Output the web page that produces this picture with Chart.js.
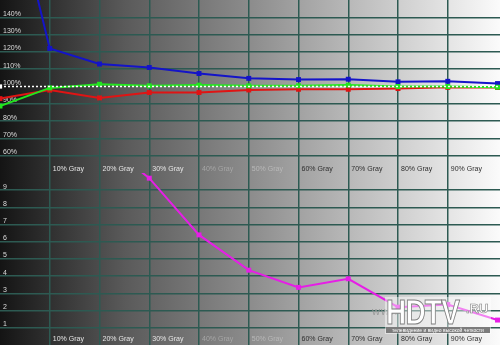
<!DOCTYPE html>
<html>
<head>
<meta charset="utf-8">
<script src="https://cdn.jsdelivr.net/npm/chart.js@4/dist/chart.umd.min.js"></script>
<style>
  html, body { margin: 0; padding: 0; }
  body { width: 500px; height: 345px; overflow: hidden; }
  .wrap { position: relative; width: 500px; height: 345px;
    background: linear-gradient(to right, #141414 0%, #5a5a5a 25%, #8c8c8c 50%, #c4c4c4 75%, #fbfbfb 100%); }
  canvas { display: block; }
  .wm { position: absolute; left: 385px; top: 297px; width: 106px; height: 37px;
    background: rgba(255,255,255,0.45); font-family: "Liberation Sans", Arial, sans-serif; }
  .wm-www { position: absolute; left: 372px; top: 305px; font: 11px "Liberation Sans", Arial, sans-serif; color: #9a9a9a; letter-spacing: 1px; }
  .wm-hd { position: absolute; left: 1px; top: -5px; font-weight: bold; font-size: 35px; color: #fff;
    -webkit-text-stroke: 1px #808080; transform: scaleX(0.8); transform-origin: left top; letter-spacing: -1px; }
  .wm-ru { position: absolute; left: 81px; top: 4px; font-weight: bold; font-size: 13px; color: #fff; -webkit-text-stroke: 0.6px #808080; }
  .wm-tag { position: absolute; left: 1px; top: 30px; width: 104px; height: 6px; background: #7c7c7c;
    color: #fff; font-size: 5px; line-height: 6px; white-space: nowrap; overflow: hidden; text-align: center; }
</style>
</head>
<body>
<div class="wrap">
  <canvas id="rgb" width="500" height="173"></canvas>
  <canvas id="de" width="500" height="172"></canvas>
  <span class="wm-www">www</span>
  <div class="wm">
    <span class="wm-hd">HDTV</span>
    <span class="wm-ru">.RU</span>
    <div class="wm-tag">телевидение и видео высокой четкости</div>
  </div>
</div>
<script>
"use strict";

const levels = [0, 10, 20, 30, 40, 50, 60, 70, 80, 90, 100];
const redLevel = [93, 97.9, 93.4, 96.5, 96.5, 98, 98.4, 98.4, 98.8, 99.5, 99.4];
const greenLevel = [88.7, 99.2, 101.3, 100.4, 100.8, 100.4, 100.4, 100.8, 100, 100, 99.6];
const blueLevel = [240, 122, 113, 111, 107.5, 104.7, 104, 104.2, 102.7, 103, 101.7];
const targetLevel = [100, 100];
const deltaE = [null, null, 12, 9.7, 6.4, 4.35, 3.35, 3.85, 2.2, 2.35, 1.45];

const FONT = { family: "'Liberation Sans', Arial, sans-serif", size: 7 };
const GRID = "#2d5a52";

function pts(values, xs = levels) {
  return values.map((v, i) => ({ x: xs[i], y: v }));
}

function grayLabelColor(v) {
  if (v <= 30) return "#e6e6e6";
  if (v === 40) return "#a6a6a6";
  if (v === 50) return "#b9b9b9";
  return "#2e2e2e";
}

// axes take no room: labels sit inside the plot like the original
function flatten(s) {
  s.paddingTop = 0; s.paddingBottom = 0; s.paddingLeft = 0; s.paddingRight = 0;
  if (s.isHorizontal()) s.height = 0; else s.width = 0;
}

// mirrored x labels: centre ends up at (axis top - pad - lineHeight/2)
function xAxis(pad) {
  return {
    type: "linear", min: 0, max: 100.5,
    afterFit: flatten,
    border: { display: false },
    grid: { color: GRID, lineWidth: 1.5, drawTicks: false },
    ticks: {
      stepSize: 10, align: "start", mirror: true, labelOffset: 3, padding: pad, maxRotation: 0, autoSkip: false,
      font: FONT, color: (c) => grayLabelColor(c.tick.value),
      callback: (v) => (v <= 0 || v >= 100 ? null : v + "% Gray"),
    },
  };
}

function yAxis(min, max, step, fmt, hide) {
  return {
    min, max,
    afterFit: flatten,
    border: { display: false },
    grid: { lineWidth: 1.5, drawTicks: false,
      color: (c) => (hide.includes(c.tick.value) ? "rgba(0,0,0,0)" : GRID) },
    ticks: {
      stepSize: step, mirror: true, padding: 3, labelOffset: -3.5, font: FONT, color: "#dcdcdc",
      callback: (v) => (v <= min || v >= max ? null : fmt(v)),
    },
  };
}

function series(label, values, color, extra = {}) {
  return Object.assign({
    label, data: pts(values), borderColor: color, backgroundColor: color,
    borderWidth: 2, pointStyle: "rect", pointRadius: 3.5, pointBorderWidth: 0, tension: 0,
  }, extra);
}

const common = {
  responsive: false, animation: false,
  layout: { padding: 0, autoPadding: false },
  plugins: { legend: { display: false }, tooltip: { enabled: false } },
};

new Chart(document.getElementById("rgb"), {
  type: "line",
  data: {
    datasets: [
      series("Target", targetLevel, "#ffffff", {
        data: pts(targetLevel, [0, 100.5]), borderWidth: 1.5, borderDash: [2, 2], pointRadius: [3, 0],
      }),
      series("Green", greenLevel, "#22e61e"),
      series("Red", redLevel, "#e01414"),
      series("Blue", blueLevel, "#1414c8"),
    ],
  },
  options: Object.assign({}, common, {
    scales: {
      x: xAxis(0),
      y: yAxis(50, 150, 10, (v) => v + "%", [100]),
    },
  }),
});

new Chart(document.getElementById("de"), {
  type: "line",
  data: {
    datasets: [series("dE", deltaE, "#e61ee6")],
  },
  options: Object.assign({}, common, {
    scales: {
      x: xAxis(2),
      y: yAxis(0, 10, 1, (v) => String(v), []),
    },
  }),
});
</script>
</body>
</html>
